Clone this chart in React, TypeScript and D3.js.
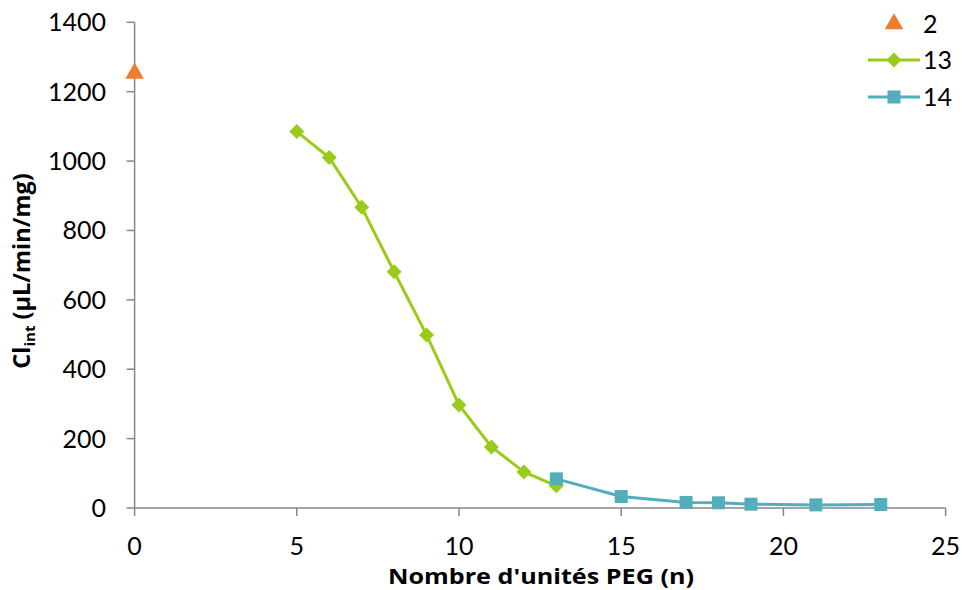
import React from "react";
import * as d3 from "d3";

const series2X = [0];
const series2Y = [1253];
const series13X = [5, 6, 7, 8, 9, 10, 11, 12, 13];
const series13Y = [1085, 1010, 867, 681, 499, 297, 176, 104, 64];
const series14X = [13, 15, 17, 18, 19, 21, 23];
const series14Y = [84, 33, 16, 15, 11, 9, 10];
const xTicks = [0, 5, 10, 15, 20, 25];
const yTicks = [0, 200, 400, 600, 800, 1000, 1200, 1400];
const legendLabels = ["2", "13", "14"];

const W = 962;
const H = 590;
const FONT = "Lato, 'Open Sans', sans-serif";
const TFONT = "'Open Sans', Lato, sans-serif";
const C2 = "#ED7D31";
const C13 = "#99CC1A";
const C14 = "#52AEBA";
const AXIS = "#878787";

export default function App() {
  const x = d3.scaleLinear().domain([0, 25]).range([134.6, 945.6]);
  const y = d3.scaleLinear().domain([0, 1400]).range([508, 22.3]);
  const line = d3
    .line<[number, number]>()
    .x((d) => x(d[0]))
    .y((d) => y(d[1]));
  const d13: [number, number][] = series13X.map((v, i) => [v, series13Y[i]]);
  const d14: [number, number][] = series14X.map((v, i) => [v, series14Y[i]]);
  const d2: [number, number][] = series2X.map((v, i) => [v, series2Y[i]]);
  const tri = d3.symbol(d3.symbolTriangle, 150)();
  const dia = (cx: number, cy: number, r: number) =>
    `M${cx},${cy - r}L${cx + r},${cy}L${cx},${cy + r}L${cx - r},${cy}Z`;
  const sq = 13;

  const legendX = 868;
  const legendY = [24, 60, 97];

  return (
    <svg
      width={W}
      height={H}
      style={{ position: "absolute", left: 0, top: 0, background: "#fff" }}
      fontFamily={FONT}
    >
      {/* axes */}
      <line x1={x(0)} x2={x(0)} y1={y(1400)} y2={y(0)} stroke={AXIS} strokeWidth={1.5} />
      <line x1={x(0)} x2={x(25)} y1={y(0)} y2={y(0)} stroke={AXIS} strokeWidth={1.5} />
      {yTicks.map((t) => (
        <g key={"y" + t}>
          <line x1={x(0) - 8} x2={x(0)} y1={y(t)} y2={y(t)} stroke={AXIS} strokeWidth={1.5} />
          <text x={106} y={y(t)} dy="0.36em" textAnchor="end" fontSize={25} fill="#000">
            {t}
          </text>
        </g>
      ))}
      {xTicks.map((t) => (
        <g key={"x" + t}>
          <line x1={x(t)} x2={x(t)} y1={y(0)} y2={y(0) + 8} stroke={AXIS} strokeWidth={1.5} />
          <text x={x(t)} y={555} textAnchor="middle" fontSize={25} fill="#000">
            {t}
          </text>
        </g>
      ))}
      <text
        x={541}
        y={584}
        textAnchor="middle"
        fontSize={21}
        fontWeight="bold"
        fill="#000"
        fontFamily={TFONT}
        textLength={306}
        lengthAdjust="spacingAndGlyphs"
      >
        Nombre d'unités PEG (n)
      </text>
      <text
        transform="translate(30,271) rotate(-90)"
        textAnchor="middle"
        fontSize={23.5}
        fontWeight="bold"
        fill="#000"
        fontFamily={TFONT}
      >
        Cl
        <tspan fontSize={15} dy={5}>int</tspan>
        <tspan dy={-5}> (µL/min/mg)</tspan>
      </text>

      {/* series 13 */}
      <path d={line(d13) || ""} fill="none" stroke={C13} strokeWidth={3} />
      {d13.map((d, i) => (
        <path key={"d" + i} d={dia(x(d[0]), y(d[1]), 7.5)} fill={C13} />
      ))}
      {/* series 14 */}
      <path d={line(d14) || ""} fill="none" stroke={C14} strokeWidth={3} />
      {d14.map((d, i) => (
        <rect
          key={"s" + i}
          x={x(d[0]) - sq / 2}
          y={y(d[1]) - sq / 2}
          width={sq}
          height={sq}
          fill={C14}
        />
      ))}
      {/* series 2 */}
      {d2.map((d, i) => (
        <path key={"t" + i} d={tri || ""} transform={`translate(${x(d[0])},${y(d[1])})`} fill={C2} />
      ))}

      {/* legend */}
      <path d={tri || ""} transform={`translate(${legendX + 26},${legendY[0]})`} fill={C2} />
      <line x1={legendX} x2={legendX + 52} y1={legendY[1]} y2={legendY[1]} stroke={C13} strokeWidth={3} />
      <path d={dia(legendX + 26, legendY[1], 7.5)} fill={C13} />
      <line x1={legendX} x2={legendX + 52} y1={legendY[2]} y2={legendY[2]} stroke={C14} strokeWidth={3} />
      <rect x={legendX + 26 - sq / 2} y={legendY[2] - sq / 2} width={sq} height={sq} fill={C14} />
      {legendLabels.map((l, i) => (
        <text key={l} x={923} y={legendY[i]} dy="0.36em" fontSize={25} fill="#000">
          {l}
        </text>
      ))}
    </svg>
  );
}
